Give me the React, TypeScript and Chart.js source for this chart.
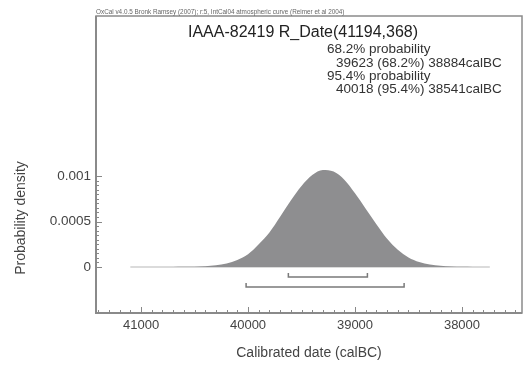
import React, { useEffect, useRef } from "react";
import { Chart, registerables } from "chart.js";

Chart.register(...registerables);

// ---- data ----
const years = [
  41100, 41000, 40900, 40800, 40700, 40600, 40500, 40400, 40300, 40200, 40100, 40000,
  39900, 39800, 39700, 39600, 39500, 39400, 39300, 39200, 39100, 39000, 38900, 38800,
  38700, 38600, 38500, 38400, 38300, 38200, 38100, 38000, 37900, 37800, 37740,
];
const density = [
  0.0, 0.000001, 0.000001, 0.000001, 0.000001, 0.000002, 0.000004, 0.000009, 0.00002, 0.00004, 0.000078, 0.00014,
  0.00025, 0.00038, 0.000553, 0.00073, 0.00089, 0.00101, 0.001067, 0.00105, 0.00096, 0.00081, 0.00064, 0.00047,
  0.00031, 0.00019, 0.000105, 0.000055, 0.000027, 0.000013, 0.000006, 0.000003, 0.000001, 0.0, 0.0,
];
const baselineYears = [41100, 37740];
const range68 = [39623, 38884];
const range95 = [40018, 38541];
const xTickValues = [41000, 40000, 39000, 38000];
const yTickValues = [0, 0.0005, 0.001];

const headerText =
  "OxCal v4.0.5 Bronk Ramsey (2007); r:5, IntCal04 atmospheric curve (Reimer et al 2004)";
const titleText = "IAAA-82419 R_Date(41194,368)";
const legendLines = [
  "68.2% probability",
  "39623 (68.2%) 38884calBC",
  "95.4% probability",
  "40018 (95.4%) 38541calBC",
];
const xTitle = "Calibrated date (calBC)";
const yTitle = "Probability density";

// bracket vertical placement (style, in density units below zero)
const bracket68 = { bar: -0.00011, tip: -0.000066 };
const bracket95 = { bar: -0.00022, tip: -0.000176 };

const FONT = "'Liberation Sans', Arial, sans-serif";

function bracketPoints(r: number[], lv: { bar: number; tip: number }) {
  return [
    { x: r[0], y: lv.tip },
    { x: r[0], y: lv.bar },
    { x: r[1], y: lv.bar },
    { x: r[1], y: lv.tip },
  ];
}

const decorPlugin = {
  id: "decor",
  afterDraw(chart: any) {
    const { ctx, chartArea: a, scales } = chart;
    const x = scales.x;
    const y = scales.y;
    ctx.save();
    // frame
    ctx.strokeStyle = "#8a8a8a";
    ctx.lineWidth = 1.5;
    ctx.strokeRect(a.left, a.top, a.right - a.left, a.bottom - a.top);
    ctx.lineWidth = 2;
    ctx.beginPath();
    ctx.moveTo(a.left, a.top);
    ctx.lineTo(a.left, a.bottom);
    ctx.lineTo(a.right, a.bottom);
    ctx.stroke();

    // x ticks (inward)
    ctx.lineWidth = 1;
    ctx.strokeStyle = "#888";
    for (let v = 41400; v >= 37400; v -= 100) {
      const px = Math.round(x.getPixelForValue(v)) + 0.5;
      if (px < a.left + 2 || px > a.right - 2) continue;
      const major = v % 1000 === 0;
      ctx.beginPath();
      ctx.moveTo(px, a.bottom);
      ctx.lineTo(px, a.bottom - (major ? 6 : 3));
      ctx.stroke();
    }
    // y ticks (inward)
    for (let i = 0; i <= 20; i++) {
      const v = i * 0.00005;
      const py = Math.round(y.getPixelForValue(v)) + 0.5;
      const major = i % 10 === 0;
      ctx.beginPath();
      ctx.moveTo(a.left, py);
      ctx.lineTo(a.left + (major ? 6 : 3), py);
      ctx.stroke();
    }

    // header
    ctx.fillStyle = "#666";
    ctx.textBaseline = "alphabetic";
    ctx.textAlign = "left";
    ctx.font = `10px ${FONT}`;
    const w = ctx.measureText(headerText).width;
    const fs = (10 * 249) / w;
    ctx.font = `${fs}px ${FONT}`;
    ctx.fillText(headerText, a.left, a.top - 2);

    // title
    ctx.fillStyle = "#222";
    ctx.font = `16px ${FONT}`;
    ctx.fillText(titleText, 188, 37);

    // legend text
    ctx.fillStyle = "#333";
    ctx.font = `13.5px ${FONT}`;
    const lx = [327, 336, 327, 336];
    const ly = [52.5, 66.5, 79.5, 93];
    legendLines.forEach((t, i) => ctx.fillText(t, lx[i], ly[i]));

    // axis titles
    ctx.fillStyle = "#444";
    ctx.font = `14px ${FONT}`;
    ctx.textAlign = "center";
    ctx.fillText(xTitle, (a.left + a.right) / 2, 357);
    ctx.save();
    ctx.translate(25, 218);
    ctx.rotate(-Math.PI / 2);
    ctx.fillText(yTitle, 0, 0);
    ctx.restore();

    ctx.restore();
  },
};

export default function App() {
  const ref = useRef<HTMLCanvasElement | null>(null);
  useEffect(() => {
    if (!ref.current) return;
    const chart = new Chart(ref.current, {
      type: "scatter",
      data: {
        datasets: [
          {
            data: bracketPoints(range68, bracket68),
            showLine: true,
            borderColor: "#7a7a7a",
            borderWidth: 1.5,
            pointRadius: 0,
            fill: false,
          },
          {
            data: bracketPoints(range95, bracket95),
            showLine: true,
            borderColor: "#7a7a7a",
            borderWidth: 1.5,
            pointRadius: 0,
            fill: false,
          },
          {
            data: years.map((yr, i) => ({ x: yr, y: density[i] })),
            showLine: true,
            borderWidth: 0,
            borderColor: "rgba(0,0,0,0)",
            backgroundColor: "#8e8e90",
            pointRadius: 0,
            fill: "origin",
            cubicInterpolationMode: "monotone",
          },
          {
            data: baselineYears.map((yr) => ({ x: yr, y: 0 })),
            showLine: true,
            borderColor: "#cfcfcf",
            borderWidth: 1.5,
            pointRadius: 0,
            fill: false,
          },
        ],
      },
      options: {
        animation: false,
        responsive: false,
        maintainAspectRatio: false,
        layout: { padding: { top: 16, right: 3, left: 0, bottom: 0 } },
        plugins: {
          legend: { display: false },
          tooltip: { enabled: false },
          title: { display: false },
        },
        scales: {
          x: {
            type: "linear",
            reverse: true,
            min: 37439,
            max: 41421,
            grid: { display: false, drawTicks: false },
            border: { display: false },
            afterBuildTicks: (s: any) => {
              s.ticks = xTickValues.map((v) => ({ value: v }));
            },
            afterFit: (s: any) => {
              s.height = 54;
            },
            ticks: {
              autoSkip: false,
              maxRotation: 0,
              padding: 5,
              color: "#444",
              font: { family: FONT, size: 13 },
              callback: (v: any) => String(v),
            },
          },
          y: {
            type: "linear",
            min: -0.000505,
            max: 0.002758,
            grid: { display: false, drawTicks: false },
            border: { display: false },
            afterBuildTicks: (s: any) => {
              s.ticks = yTickValues.map((v) => ({ value: v }));
            },
            afterFit: (s: any) => {
              s.width = 96;
            },
            ticks: {
              padding: 5,
              color: "#444",
              font: { family: FONT, size: 13.5 },
              callback: (v: any) => String(v),
            },
          },
        },
      },
      plugins: [decorPlugin],
    });
    return () => chart.destroy();
  }, []);
  return (
    <div style={{ position: "absolute", left: 0, top: 0, width: 525, height: 367, background: "#fff" }}>
      <canvas ref={ref} width={525} height={367} style={{ width: 525, height: 367 }} />
    </div>
  );
}
